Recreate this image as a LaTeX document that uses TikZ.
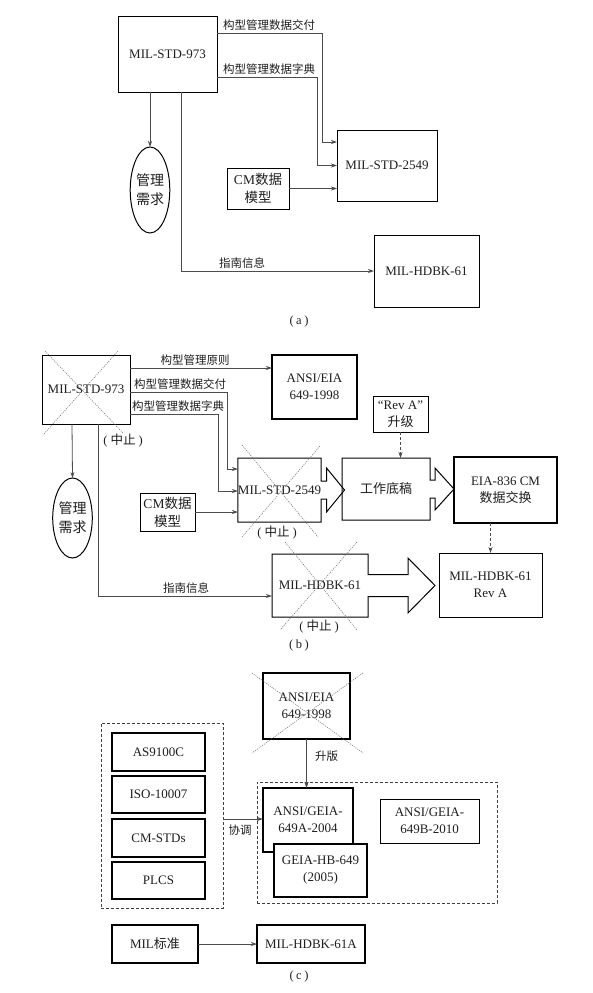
\documentclass[tikz,border=0pt]{standalone}
\usepackage{fontspec}
\setmainfont{Liberation Serif}
\newfontfamily\cjk{Noto Sans CJK SC}
\usetikzlibrary{arrows.meta,shapes.geometric,calc}
\definecolor{lncol}{gray}{0.3}
\definecolor{txcol}{gray}{0.12}
\definecolor{dotcol}{gray}{0.45}
\newcommand{\myarrowbox}[5]{%
  \draw[bxline] (#1.north west) -- (#1.north east) -- ([yshift=#2pt]#1.east)
    -- ([xshift=#4pt,yshift=#2pt]#1.east) -- ([xshift=#4pt,yshift=#3pt]#1.east)
    -- ([xshift=#5pt]#1.east) -- ([xshift=#4pt,yshift=-#3pt]#1.east)
    -- ([xshift=#4pt,yshift=-#2pt]#1.east) -- ([yshift=-#2pt]#1.east)
    -- (#1.south east) -- (#1.south west) -- cycle;}
\newcommand{\zhongzhi}{(\kern3pt{\cjk 中止}\kern3pt)}
\tikzset{
  bxline/.style={draw=black,line width=1pt},
  bx/.style 2 args={draw=black,line width=1pt,rectangle,inner sep=0pt,outer sep=0pt,
    minimum width=#1pt,minimum height=#2pt,align=center,text=txcol,
    font=\fontsize{13}{17}\selectfont},
  bxt/.style 2 args={bx={#1}{#2},line width=1.7pt},
  ell/.style={draw=black,line width=1pt,ellipse,inner sep=0pt,outer sep=0pt,align=center,
    text=txcol,font=\fontsize{14}{19}\selectfont\cjk},
  lbl/.style={inner sep=1pt,text=txcol,font=\fontsize{11.5}{14}\selectfont\cjk},
  zz/.style={inner sep=0pt,text=txcol,font=\fontsize{12.5}{14}\selectfont},
  captxt/.style={inner sep=0pt,text=txcol,font=\fontsize{12.5}{14}\selectfont},
  conn/.style={draw=lncol,line width=0.8pt,-{Stealth[length=6pt,width=4pt]}},
  dconn/.style={conn,dash pattern=on 3pt off 2pt},
  crossl/.style={draw=dotcol,line width=0.6pt,dash pattern=on 1pt off 1.2pt},
  dbox/.style={draw=black!75,line width=0.8pt,dash pattern=on 3pt off 2pt,rectangle,
    inner sep=0pt,minimum width=#1pt},
}
\begin{document}
\begin{tikzpicture}[x=1pt,y=-1pt]
\useasboundingbox (0,0) rectangle (592,993);
\fill[white] (0,0) rectangle (592,993);

% ================= (a) =================
\node[bx={99}{76}] (a973) at (167.5,54) {MIL-STD-973};
\node[bx={100}{71}] (a2549) at (387,165.5) {MIL-STD-2549};
\node[bx={62}{41},font=\fontsize{13.5}{18}\selectfont] (acm) at (258,188.5) {CM{\cjk 数据}\\{\cjk 模型}};
\node[ell,minimum width=36pt,minimum height=86pt] (aell) at (150,190) {管理\\需求};
\node[bx={105}{72}] (ahdbk) at (426.5,271) {MIL-HDBK-61};

\draw[conn] (a973.east |- 0,33) -| (322,142) -- (a2549.west |- 0,142);
\draw[conn] (a973.east |- 0,77) -| (317,165.5) -- (a2549.west);
\draw[conn] (acm.east) -- (a2549.west |- acm.east);
\draw[conn] (a973.south -| 150,0) -- (aell.north);
\draw[conn] (a973.south -| 181,0) |- (ahdbk.west);

\node[lbl,anchor=south west] (la1) at (222,32) {构型管理数据交付};
\node[lbl,anchor=south west] (la2) at (222,76) {构型管理数据字典};
\node[lbl,anchor=south west] (la3) at (218,270) {指南信息};
\node[captxt] (capa) at (299,321) {(\kern2.5pt a\kern2.5pt)};

% ================= (b) =================
\node[bx={88}{69}] (b973) at (86,389.5) {MIL-STD-973};
\draw[crossl] ($(b973)+(-41,-38.5)$) -- ($(b973)+(37,43.5)$);
\draw[crossl] ($(b973)+(32,-38.5)$) -- ($(b973)+(-43,45.5)$);
\node[zz] (bz1) at (123,441) {\zhongzhi};

\node[bxt={85}{64}] (bansi) at (314.5,387) {ANSI/EIA\\649-1998};
\node[bx={79}{64},draw=none] (b2549) at (279.5,490) {MIL-STD-2549};
\myarrowbox{b2549}{9}{22}{5.5}{23.5}
\draw[crossl] ($(b2549)+(-37.5,-45)$) -- ($(b2549)+(38.5,47)$);
\draw[crossl] ($(b2549)+(40.5,-44)$) -- ($(b2549)+(-37.5,47)$);
\node[zz] (bz2) at (277,533) {\zhongzhi};

\node[bx={88}{62},draw=none,font=\fontsize{13}{17}\selectfont\cjk] (bwork) at (386,489) {工作底稿};
\myarrowbox{bwork}{9}{21}{5}{24}
\node[bxt={103}{66}] (beia) at (505.5,490) {EIA-836 CM\\{\cjk 数据交换}};
\node[bx={55}{36}] (brev) at (400.5,414) {“Rev A”\\{\cjk 升级}};
\node[bx={103}{64}] (brevA) at (490.5,585) {MIL-HDBK-61\\Rev A};
\node[bx={96}{63},draw=none] (bhdbk) at (320,585.5) {MIL-HDBK-61};
\myarrowbox{bhdbk}{11}{27.5}{40}{67}
\draw[crossl] ($(bhdbk)+(-35,-43.5)$) -- ($(bhdbk)+(37,44.5)$);
\draw[crossl] ($(bhdbk)+(37,-43.5)$) -- ($(bhdbk)+(-40,44.5)$);
\node[zz] (bz3) at (319,627) {\zhongzhi};

\node[bx={55}{38},font=\fontsize{13.5}{18}\selectfont] (bcm) at (167.5,512) {CM{\cjk 数据}\\{\cjk 模型}};
\node[ell,minimum width=31pt,minimum height=80pt] (bell) at (72.5,518) {管理\\需求};

\draw[conn] (b973.east |- 0,368) -- (bansi.west |- 0,368);
\draw[conn] (b973.east |- 0,392) -| (227,469) -- (b2549.west |- 0,469);
\draw[conn] (b973.east |- 0,414) -| (218,491) -- (b2549.west |- 0,491);
\draw[conn] (bcm.east) -- (b2549.west |- bcm.east);
\draw[conn] (b973.south -| 72,0) -- (bell.north);
\draw[conn] (b973.south -| 98,0) |- (bhdbk.west |- 0,596);
\draw[dconn] (brev.south) -- (bwork.north -| brev.south);
\draw[dconn] (beia.south -| brevA.north) -- (brevA.north);

\node[lbl,anchor=south] (lb1) at (195,367) {构型管理原则};
\node[lbl,anchor=south west] (lb2) at (133,391) {构型管理数据交付};
\node[lbl,anchor=south west] (lb3) at (131,413) {构型管理数据字典};
\node[lbl,anchor=south west] (lb4) at (162,595) {指南信息};
\node[captxt] (capb) at (299,645) {(\kern2.5pt b\kern2.5pt)};

% ================= (c) =================
\node[bx={87}{66},line width=1.3pt] (cansi) at (306.5,706) {ANSI/EIA\\649-1998};
\draw[crossl] ($(cansi)+(-54.5,-33)$) -- ($(cansi)+(56.5,47)$);
\draw[crossl] ($(cansi)+(56.5,-33)$) -- ($(cansi)+(-54.5,47)$);

\node[dbox=122,minimum height=185pt] (cleft) at (162,815.5) {};
\node[bx={93}{38},line width=1.3pt] (c1) at (158.5,752) {AS9100C};
\node[bx={93}{37},line width=1.3pt] (c2) at (158.5,794.5) {ISO-10007};
\node[bx={93}{38},line width=1.3pt] (c3) at (158.5,838) {CM-STDs};
\node[bx={93}{37},line width=1.3pt] (c4) at (158.5,880.5) {PLCS};

\node[dbox=240,minimum height=121pt] (cright) at (377,842.5) {};
\node[bxt={90}{64}] (c649a) at (308,820) {ANSI/GEIA-\\649A-2004};
\node[bxt={93}{53},fill=white] (chb) at (320.5,870.5) {GEIA-HB-649\\(2005)};
\node[bx={99}{44}] (c649b) at (429.5,821) {ANSI/GEIA-\\649B-2010};

\draw[conn] (cansi.south) -- (cansi.south |- c649a.north);
\node[lbl,anchor=west] (lc1) at (314,756) {升版};
\draw[conn] (cleft.east |- 0,819) -- (c649a.west |- 0,819);
\node[lbl] (lc2) at (240,830) {协调};

\node[bx={86}{38},line width=1.3pt] (cmil) at (155,944) {MIL{\cjk 标准}};
\node[bx={108}{38},line width=1.3pt] (chdbk) at (311,944) {MIL-HDBK-61A};
\draw[conn] (cmil.east) -- (chdbk.west);
\node[captxt] (capc) at (299,976) {(\kern2.5pt c\kern2.5pt)};
\end{tikzpicture}
\end{document}
